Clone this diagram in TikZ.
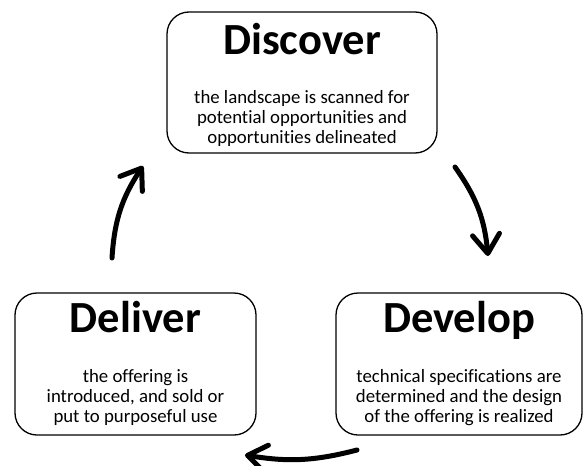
\documentclass[tikz,border=0pt]{standalone}
\usepackage{fontspec}
\setmainfont{Carlito}[Ligatures=NoCommon]
\usetikzlibrary{arrows.meta}
\newcommand{\stagetitle}{\fontsize{44.5}{48}\selectfont\bfseries}
\newcommand{\stagebody}{\fontsize{18.8}{20}\selectfont}

\begin{document}
\begin{tikzpicture}[x=1pt,y=1pt,
        stage/.style={draw,line width=1.3pt,rounded corners=22pt,minimum height=142pt},
        heading/.style={font=\stagetitle,anchor=base,inner sep=0pt},
        desc/.style={font=\stagebody,align=center,anchor=base,inner sep=0pt},
        turn/.style={line width=5pt,line cap=round,-{Straight Barb[length=19pt,width=27pt,round]}}
    ]
    \useasboundingbox (0,0) rectangle (585,-465);

    % Boxes
    \node[stage,minimum width=270pt,minimum height=141pt] (disc) at (302,-82.5) {};
    \node[stage,minimum width=241pt] (deli) at (135.5,-364) {};
    \node[stage,minimum width=246pt] (deve) at (459,-364) {};

    % base of a multi-line node = last line
    \node[heading] (disc-t) at ([yshift=-43pt]disc.north) {Discover};
    \node[desc] (disc-d) at ([yshift=-132pt]disc.north)
        {the landscape is scanned for\\potential opportunities and\\opportunities delineated};
    \node[heading] (deli-t) at ([yshift=-40pt]deli.north) {Deliver};
    \node[desc] (deli-d) at ([yshift=-130pt]deli.north)
        {the offering is\\introduced, and sold or\\put to purposeful use};
    \node[heading] (deve-t) at ([yshift=-40pt]deve.north) {Develop};
    \node[desc] (deve-d) at ([yshift=-130pt]deve.north)
        {technical specifications are\\determined and the design\\of the offering is realized};

    % Arrows
    \coordinate (deli-out) at (112,-258);
    \coordinate (disc-in)  at (143,-166);
    \coordinate (disc-out) at (455,-167);
    \coordinate (deve-in)  at (488,-256);
    \coordinate (deve-out) at (357,-450);
    \coordinate (deli-in)  at (245,-455);
    \draw[turn] (deli-out) to[bend left=15] (disc-in);
    \draw[turn] (disc-out) to[bend left=15] (deve-in);
    \draw[turn] (deve-out) to[bend left=12] (deli-in);
\end{tikzpicture}
\end{document}
